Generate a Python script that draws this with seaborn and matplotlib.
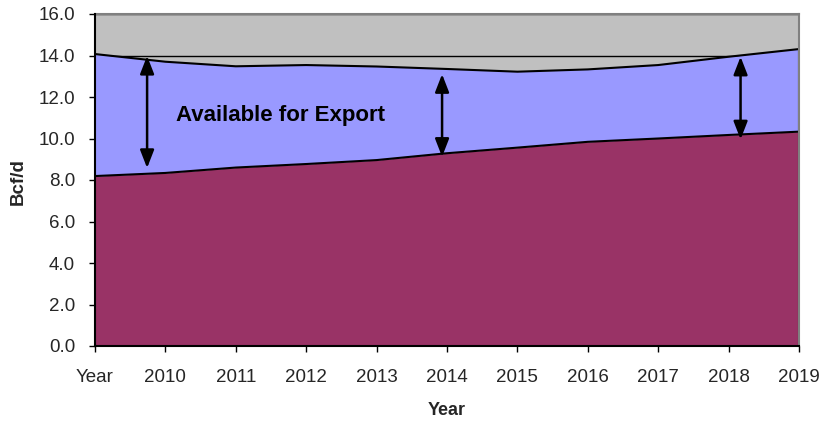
import matplotlib
matplotlib.use("Agg")
import matplotlib.pyplot as plt
import seaborn as sns
import pandas as pd

categories = ["Year", "2010", "2011", "2012", "2013", "2014", "2015", "2016", "2017", "2018", "2019"]
demand = [8.19, 8.34, 8.60, 8.77, 8.96, 9.29, 9.56, 9.84, 10.00, 10.17, 10.33]
supply = [14.07, 13.70, 13.48, 13.54, 13.47, 13.35, 13.22, 13.33, 13.54, 13.94, 14.31]
yticks = [0, 2, 4, 6, 8, 10, 12, 14, 16]

# arrows: (x position in category units, top value, bottom value)
arrow_x = [0.74, 4.93, 9.17]
arrow_top = [13.98, 13.10, 13.94]
arrow_bot = [8.58, 9.12, 9.96]

df = pd.DataFrame({"pos": list(range(len(categories))), "demand": demand, "supply": supply})

sns.set_theme(style="white")
plt.rcParams["font.family"] = ["Liberation Sans", "DejaVu Sans"]

fig = plt.figure(figsize=(8.21, 4.24), dpi=100)
ax = fig.add_axes([95 / 821, 1 - 346 / 424, (799 - 95) / 821, (346 - 14) / 424])
ax.set_facecolor("#C0C0C0")

for t in yticks:
    ax.axhline(t, color="black", lw=1.0, zorder=0.5)

ax.fill_between(df["pos"], 0, df["demand"], color="#993366", zorder=1, lw=0)
ax.fill_between(df["pos"], df["demand"], df["supply"], color="#9999FF", zorder=1, lw=0)
sns.lineplot(data=df, x="pos", y="supply", color="black", lw=1.5, ax=ax, zorder=2)
sns.lineplot(data=df, x="pos", y="demand", color="black", lw=1.5, ax=ax, zorder=2)
ax.vlines(df["pos"].iloc[-1], 0, df["supply"].iloc[-1], color="black", lw=1.5, zorder=2)

for x, t, b in zip(arrow_x, arrow_top, arrow_bot):
    ax.annotate("", xy=(x, t), xytext=(x, b),
                arrowprops=dict(arrowstyle="<|-|>,head_length=0.9,head_width=0.35",
                                color="black", lw=1.8, shrinkA=0, shrinkB=0), zorder=3)

ax.text(1.15, 11.1, "Available for Export", fontsize=16, fontweight="bold",
        ha="left", va="center", color="black", zorder=3)

ax.set_xlim(0, len(categories) - 1)
ax.set_ylim(0, 16)
ax.set_xticks(range(len(categories)))
ax.set_xticklabels(categories, fontsize=13.5)
ax.set_yticks(yticks)
ax.set_yticklabels([f"{v:.1f}" for v in yticks], fontsize=13.5)
ax.tick_params(axis="both", direction="out", length=4.3, width=1, color="black",
               left=True, bottom=True)
ax.tick_params(axis="x", pad=12)
ax.tick_params(axis="y", pad=10)

for s in ["top", "right"]:
    ax.spines[s].set_color("#808080")
    ax.spines[s].set_linewidth(1.5)
for s in ["left", "bottom"]:
    ax.spines[s].set_color("black")
    ax.spines[s].set_linewidth(1.5)
    ax.spines[s].set_zorder(4)

ax.set_xlabel("Year", fontsize=13, fontweight="bold", labelpad=12)
ax.set_ylabel("Bcf/d", fontsize=13.5, fontweight="bold")
ax.yaxis.set_label_coords(-0.0966, 0.494)

fig.savefig("out.png", dpi=100)
